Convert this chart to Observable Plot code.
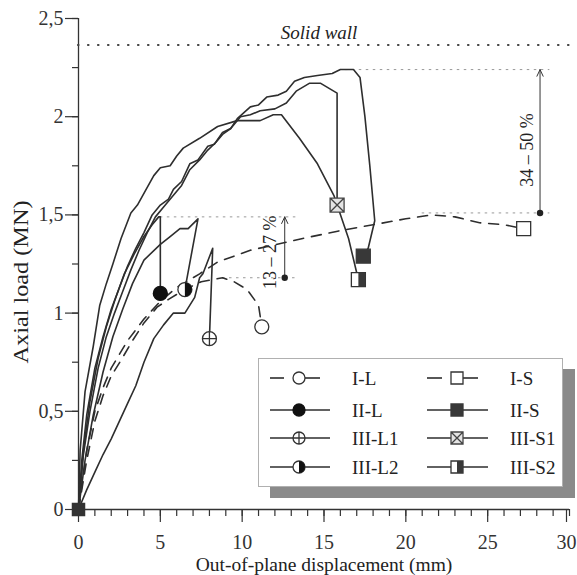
<!DOCTYPE html>
<html><head><meta charset="utf-8">
<script src="https://cdn.jsdelivr.net/npm/d3@7"></script>
<script src="https://cdn.jsdelivr.net/npm/@observablehq/plot@0.6"></script>
<style>
html,body{margin:0;padding:0;background:#fff;}
#wrap{position:relative;width:577px;height:575px;font-family:"Liberation Serif","Times New Roman",serif;}
#legend{position:absolute;left:258px;top:358px;width:305px;height:129px;background:#fff;border:1px solid #b0b0b0;box-shadow:12px 11px 0 #8a8a8a;box-sizing:border-box;}
#legend svg{display:block;}
</style></head><body><div id="wrap"></div>
<script>
// ---- data (mm, MN) ----
const seriesNames = ["I-L","II-L","III-L1","III-L2","I-S","II-S","III-S1","III-S2"];
const IL = [[0,0],[0.5,0.25],[1,0.45],[1.5,0.58],[2,0.68],[2.6,0.76],[3.3,0.86],[4,0.95],[4.8,1.03],[5.5,1.07],[6.5,1.12],[7.5,1.16],[8.8,1.18],[9.5,1.16],[10.3,1.12],[11,1.04],[11.2,0.93]];
const IIL = [[0,0],[0.3,0.3],[0.7,0.55],[1.2,0.77],[1.7,0.93],[2.2,1.06],[2.8,1.2],[3.4,1.3],[4,1.39],[4.5,1.45],[4.9,1.49],[5,1.49],[5,1.1]];
const IIIL1 = [[0,0],[0.5,0.1],[1,0.19],[1.5,0.28],[2,0.36],[2.5,0.45],[3,0.54],[3.5,0.63],[4,0.75],[4.6,0.87],[5.2,0.94],[5.8,1.0],[6.5,1.0],[7.1,1.08],[7.4,1.18],[7.6,1.2],[8.2,1.33],[8.0,0.87]];
const IIIL2 = [[0,0],[0.4,0.25],[0.9,0.48],[1.5,0.7],[2.1,0.88],[2.7,1.02],[3.3,1.15],[4,1.27],[5,1.35],[5.6,1.39],[6.2,1.43],[6.7,1.43],[7.3,1.48],[6.5,1.12]];
const IS = [[0,0],[0.5,0.3],[1,0.5],[1.5,0.62],[2,0.72],[3,0.86],[4,0.97],[5,1.06],[6,1.13],[7.4,1.2],[8.5,1.26],[10.5,1.32],[13.7,1.38],[16,1.42],[18,1.45],[20,1.48],[21.6,1.5],[23,1.49],[24.5,1.46],[26,1.45],[27.2,1.43]];
const IIS = [[0,0],[0.2,0.25],[0.5,0.48],[1,0.72],[1.5,0.88],[2,1.02],[2.5,1.13],[3,1.24],[3.5,1.33],[4,1.41],[4.5,1.5],[5,1.55],[5.5,1.58],[5.8,1.63],[6.3,1.67],[6.8,1.76],[7.3,1.78],[7.9,1.85],[8.3,1.86],[8.8,1.92],[9.3,1.94],[9.7,1.99],[10.5,2.05],[11,2.06],[11.5,2.1],[12.2,2.11],[12.7,2.13],[13.2,2.18],[13.8,2.2],[14.6,2.21],[15.5,2.22],[16,2.24],[16.8,2.24],[17.2,2.2],[17.5,2.0],[17.8,1.75],[18.1,1.47],[17.7,1.33],[17.4,1.29]];
const IIIS1 = [[0,0],[0.3,0.28],[0.7,0.5],[1.2,0.72],[1.7,0.88],[2.2,1.0],[2.7,1.11],[3.2,1.22],[3.7,1.32],[4.2,1.41],[4.7,1.49],[5.2,1.54],[5.8,1.6],[6.3,1.65],[6.8,1.73],[7.4,1.78],[7.9,1.83],[8.4,1.87],[8.8,1.91],[9.3,1.94],[9.9,2.0],[10.5,2.01],[11.1,2.03],[12,2.04],[12.7,2.07],[13.3,2.13],[14.1,2.17],[14.8,2.17],[15.8,2.12],[15.8,1.55]];
const IIIS2 = [[0,0],[0.1,0.3],[0.4,0.6],[0.9,0.83],[1.3,1.04],[1.7,1.15],[2.1,1.25],[2.6,1.38],[3.2,1.51],[3.6,1.55],[4.2,1.64],[4.6,1.7],[5,1.74],[5.6,1.75],[6,1.8],[6.4,1.84],[7.4,1.89],[8.5,1.95],[9.7,1.98],[11.1,1.98],[11.9,2.01],[12.4,2.01],[13.5,1.89],[14.6,1.76],[15.6,1.6],[16.5,1.38],[17.1,1.17]];
const seriesData = [IL, IIL, IIIL1, IIIL2, IS, IIS, IIIS1, IIIS2];
const dashedSeries = ["I-L","I-S"];

const xMajor = [0,5,10,15,20,25];
const xLast = [30];
const xMinor = d3.range(0,31,1);
const yMajor = [0,0.5,1,1.5,2,2.5];
const yMinor = [0,0.25,0.5,0.75,1,1.25,1.5,1.75,2,2.25,2.5];

const solidWall = 2.365;
const refLines = [{y:2.24,x1:16.3,x2:28.8},{y:1.51,x1:21.0,x2:28.8},{y:1.49,x1:5.0,x2:13.4},{y:1.18,x1:8.8,x2:13.4}];
const rangeArrows = [
  {x:28.2,y1:1.51,y2:2.24,label:"34 – 50 %",tx:27.4,ty:1.83},
  {x:12.6,y1:1.18,y2:1.49,label:"13 – 27 %",tx:11.7,ty:1.31}
];
const wallLabel = [{x:14.7,y:2.425,text:"Solid wall"}];

// ---- symbols ----
const rad = s => Math.sqrt(s/Math.PI);
const symCircle = {draw(c,s){const r=rad(s);c.moveTo(r,0);c.arc(0,0,r,0,2*Math.PI);c.closePath();}};
const symHalfDisk = {draw(c,s){const r=rad(s);c.moveTo(0,-r);c.arc(0,0,r,-Math.PI/2,Math.PI/2);c.closePath();}};
const symCirclePlus = {draw(c,s){const r=rad(s);c.moveTo(r,0);c.arc(0,0,r,0,2*Math.PI);c.closePath();c.moveTo(-r,0);c.lineTo(r,0);c.moveTo(0,-r);c.lineTo(0,r);}};
const symSquare = {draw(c,s){const h=rad(s);c.rect(-h,-h,2*h,2*h);}};
const symHalfSquare = {draw(c,s){const h=rad(s);c.rect(0,-h,h,2*h);}};
const symSquareX = {draw(c,s){const h=rad(s);c.rect(-h,-h,2*h,2*h);c.moveTo(-h,-h);c.lineTo(h,h);c.moveTo(h,-h);c.lineTo(-h,h);}};

const ink = "#333";
const markerStyle = {
  "I-L":[{symbol:symCircle,fill:"white",stroke:ink}],
  "II-L":[{symbol:symCircle,fill:"#111",stroke:"#111"}],
  "III-L1":[{symbol:symCirclePlus,fill:"white",stroke:ink}],
  "III-L2":[{symbol:symCircle,fill:"white",stroke:ink},{symbol:symHalfDisk,fill:"#111",stroke:"none"}],
  "I-S":[{symbol:symSquare,fill:"white",stroke:ink}],
  "II-S":[{symbol:symSquare,fill:"#383838",stroke:"#383838"}],
  "III-S1":[{symbol:symSquareX,fill:"#e4e4e4",stroke:"#444"}],
  "III-S2":[{symbol:symSquare,fill:"white",stroke:ink},{symbol:symHalfSquare,fill:"#383838",stroke:"none"}]
};

// ---- tables ----
const rows = seriesNames.flatMap((name,k)=>seriesData[k].map(([x,y],i)=>({series:name,x,y,i})));
const ends = seriesNames.map((name,k)=>{const p=seriesData[k][seriesData[k].length-1];return {series:name,x:p[0],y:p[1]};});
const origin = [{x:IIS[0][0], y:IIS[0][1]}];

const fmt = d => String(d).replace(".", ",");
const markerMarks = ends.flatMap(e => markerStyle[e.series].map(st =>
  Plot.dot([e], {x:"x", y:"y", r:7, symbol:st.symbol, fill:st.fill, stroke:st.stroke, strokeWidth:1.3})));

const chart = Plot.plot({
  width:577, height:575,
  marginLeft:78, marginRight:8, marginTop:18, marginBottom:66,
  x:{domain:[0,30]},
  y:{domain:[0,2.5]},
  style:{fontFamily:"'Liberation Serif', serif", fontSize:"20px", color:"#333", background:"white", overflow:"visible"},
  marks:[
    Plot.axisX({ticks:xMinor, tickSize:7, tickFormat:()=>"", label:null, strokeWidth:1.2}),
    Plot.axisX({ticks:xMajor, tickSize:13, tickPadding:12, tickFormat:fmt, label:null, strokeWidth:1.2}),
    Plot.axisX({ticks:xLast, tickSize:13, tickPadding:12, tickFormat:fmt, label:null, strokeWidth:1.2, dx:-3}),
    Plot.axisY({ticks:yMinor, tickSize:6, tickFormat:()=>"", label:null, strokeWidth:1.2}),
    Plot.axisY({ticks:yMajor, tickSize:13, tickPadding:2, tickFormat:fmt, label:null, strokeWidth:1.2}),
    Plot.ruleX([0], {stroke:"#333", strokeWidth:1.3}),
    Plot.ruleY([0], {stroke:"#333", strokeWidth:1.3}),
    Plot.text(["Axial load (MN)"], {frameAnchor:"left", textAnchor:"middle", lineAnchor:"middle", rotate:-90, dx:-57, dy:18, fontSize:20, fill:"#222", className:"ylab"}),
    Plot.text(["Out-of-plane displacement (mm)"], {frameAnchor:"bottom", textAnchor:"middle", lineAnchor:"middle", dy:55, fontSize:19.5, fill:"#222"}),
    // reference annotations
    Plot.ruleY([solidWall], {stroke:"#444", strokeWidth:2.2, strokeDasharray:"0.5,9.5", strokeLinecap:"round"}),
    Plot.text(wallLabel, {x:"x", y:"y", text:"text", fontStyle:"italic", fontSize:19, fill:"#222"}),
    Plot.ruleY(refLines, {y:"y", x1:"x1", x2:"x2", stroke:"#999", strokeWidth:1, strokeDasharray:"2.5,4.5"}),
    Plot.arrow(rangeArrows, {x1:"x", x2:"x", y1:"y1", y2:"y2", stroke:"#333", strokeWidth:1, headLength:11, headAngle:50}),
    Plot.dot(rangeArrows, {x:"x", y:"y1", r:3.2, fill:"#222"}),
    Plot.text(rangeArrows, {x:"tx", y:"ty", text:"label", rotate:-90, fontSize:18, fill:"#222"}),
    // curves
    Plot.line(rows.filter(d=>!dashedSeries.includes(d.series)), {x:"x", y:"y", z:"series", stroke:"#2e2e2e", strokeWidth:1.6}),
    Plot.line(rows.filter(d=>dashedSeries.includes(d.series)), {x:"x", y:"y", z:"series", stroke:"#2e2e2e", strokeWidth:1.6, strokeDasharray:"10,8"}),
    Plot.dot(origin, {x:"x", y:"y", r:6, symbol:symSquare, fill:"#333", stroke:"#333"}),
    ...markerMarks
  ]
});
const wrap = document.getElementById("wrap");
wrap.appendChild(chart);
// stretch the y-axis title along its length, as in the reference
d3.select(chart).selectAll("g.ylab text").attr("textLength",163).attr("lengthAdjust","spacingAndGlyphs");

// ---- legend ----
const legend = d3.select(wrap).append("div").attr("id","legend");
const lsvg = legend.append("svg").attr("width",303).attr("height",127)
  .style("font-family","'Liberation Serif', serif").style("font-size","19px");
const rowY = [19,51,79,108];
const cols = [{l1:11,l2:71,m:40,t:93},{l1:168,l2:229,m:198,t:251}];
seriesNames.forEach((name,k)=>{
  const c = cols[Math.floor(k/4)], y = rowY[k%4];
  const g = lsvg.append("g");
  if (dashedSeries.includes(name)) {
    g.append("line").attr("x1",c.l1).attr("x2",c.m-15).attr("y1",y).attr("y2",y).attr("stroke","#2e2e2e").attr("stroke-width",1.6);
    g.append("line").attr("x1",c.m+6).attr("x2",c.m+21).attr("y1",y).attr("y2",y).attr("stroke","#2e2e2e").attr("stroke-width",1.6);
  } else {
    g.append("line").attr("x1",c.l1).attr("x2",c.l2).attr("y1",y).attr("y2",y).attr("stroke","#2e2e2e").attr("stroke-width",1.6);
  }
  markerStyle[name].forEach(st=>{
    g.append("path").attr("d", d3.symbol(st.symbol, 36*Math.PI)())
      .attr("transform",`translate(${c.m},${y})`).attr("fill",st.fill).attr("stroke",st.stroke).attr("stroke-width",1.3);
  });
  g.append("text").attr("x",c.t).attr("y",y).attr("dy","0.35em").attr("fill","#222").text(name);
});
</script></body></html>
